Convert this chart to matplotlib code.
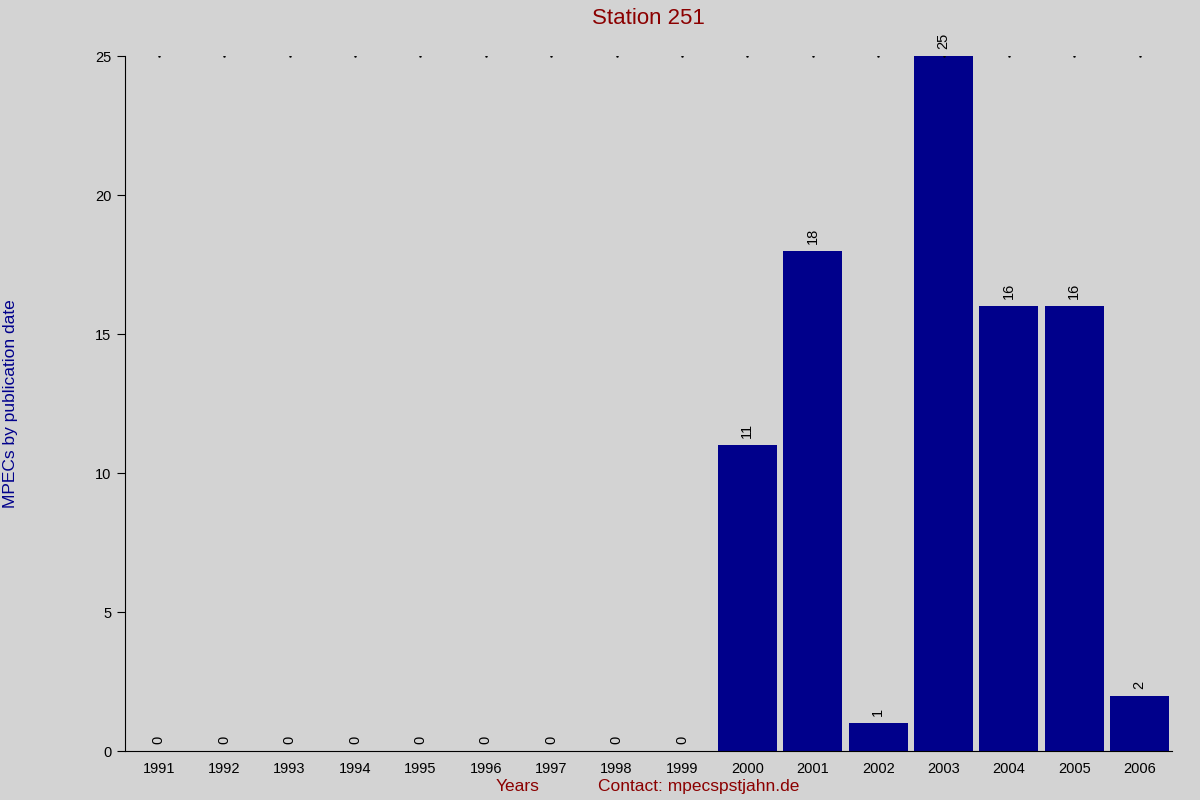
"""Station 251 MPEC counts per year."""
import matplotlib
matplotlib.use("Agg")
import matplotlib.pyplot as plt

years = [str(y) for y in range(1991, 2007)]
counts = [0, 0, 0, 0, 0, 0, 0, 0, 0, 11, 18, 1, 25, 16, 16, 2]

plt.rcParams["font.family"] = ["Liberation Sans", "DejaVu Sans"]

fig = plt.figure(figsize=(12, 8), dpi=100, facecolor="#d3d3d3")
ax = fig.add_axes([0.104, 0.061, 0.873, 0.869])
ax.set_facecolor("#d3d3d3")

x = list(range(len(years)))
ax.bar(x, counts, width=0.9, color="#00008b")
for xi, c in zip(x, counts):
    ax.text(xi, c + 0.25, str(c), rotation=90, ha="center", va="bottom", fontsize=10.5)

# little dots along the top
ax.plot(x, [25] * len(x), linestyle="none", marker=".", markersize=1.5, color="black")

ax.set_xlim(-0.52, 15.5)
ax.set_ylim(0, 25)
ax.set_xticks(x)
ax.set_xticklabels(years, fontsize=10.5)
ax.set_yticks([0, 5, 10, 15, 20, 25])
ax.tick_params(axis="y", labelsize=10.5, length=6)
ax.tick_params(axis="x", length=0, pad=8)
for s in ("top", "right"):
    ax.spines[s].set_visible(False)

fig.text(0.54, 0.977, "Station 251", ha="center", va="center", fontsize=16, color="#8b0000")
fig.text(0.431, 0.017, "Years", ha="center", va="center", fontsize=12.5, color="#8b0000")
fig.text(0.582, 0.017, "Contact: mpecspstjahn.de", ha="center", va="center", fontsize=12.5, color="#8b0000")
fig.text(0.009, 0.495, "MPECs by publication date", rotation=90, ha="center", va="center",
         fontsize=12.5, color="#00008b")

fig.savefig("out.png", dpi=100, facecolor=fig.get_facecolor())
